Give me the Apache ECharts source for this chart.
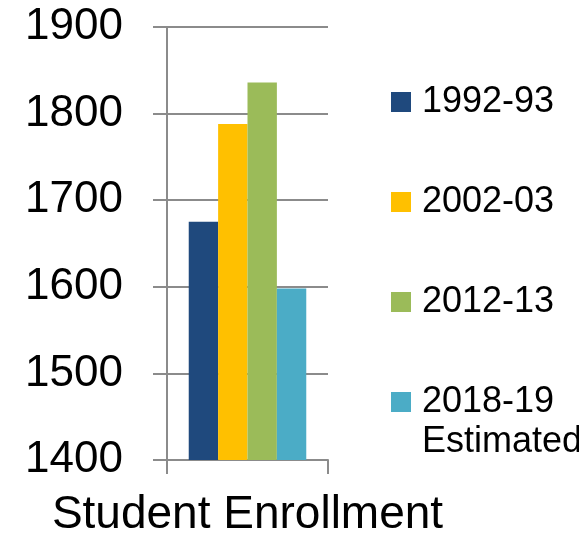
<!DOCTYPE html>
<html>
<head>
<meta charset="utf-8">
<script src="https://cdn.jsdelivr.net/npm/echarts@6/dist/echarts.min.js"></script>
<style>
  html, body { margin: 0; padding: 0; background: #fff; }
  #chart { width: 579px; height: 538px; }
</style>
</head>
<body>
<div id="chart"></div>
<script>
// data
const categories = ['Student Enrollment'];
const seriesNames = ['1992-93', '2002-03', '2012-13', '2018-19'];
const enrollment = [1675, 1788, 1836, 1598];
const yTicks = [1400, 1500, 1600, 1700, 1800, 1900];

const colors = ['#1F497D', '#FFC000', '#9BBB59', '#4BACC6'];
const gray = '#8b8b8b';

const chart = echarts.init(document.getElementById('chart'));

const option = {
  animation: false,
  color: colors,
  textStyle: { fontFamily: 'Liberation Sans' },
  grid: { left: 167, right: 251, top: 27, bottom: 77 },
  legend: {
    orient: 'vertical',
    left: 391,
    top: 82,
    padding: 0,
    itemWidth: 20,
    itemHeight: 20,
    itemGap: 60,
    icon: 'rect',
    textStyle: { fontSize: 36, color: '#000', lineHeight: 40, padding: [0, 0, 0, 6] },
    data: seriesNames
  },
  // second line of the last legend entry
  graphic: [{
    type: 'text',
    left: 422,
    top: 424,
    style: { text: 'Estimated', fontSize: 36, fontFamily: 'Liberation Sans', fill: '#000' }
  }],
  xAxis: {
    type: 'category',
    data: categories,
    axisLine: { lineStyle: { color: gray, width: 2 } },
    axisTick: { show: true, length: 14, lineStyle: { color: gray, width: 2 } },
    axisLabel: { fontSize: 46, color: '#000', margin: 32 }
  },
  yAxis: {
    type: 'value',
    min: yTicks[0],
    max: yTicks[yTicks.length - 1],
    interval: 100,
    axisLine: { show: true, lineStyle: { color: gray, width: 2 } },
    axisTick: { show: true, length: 14, lineStyle: { color: gray, width: 2 } },
    splitLine: { lineStyle: { color: gray, width: 2 } },
    axisLabel: {
      fontSize: 44,
      color: '#000',
      margin: 44,
      formatter: function (v) { return String(v); }
    }
  },
  series: seriesNames.map(function (name, i) {
    return {
      name: name,
      type: 'bar',
      barGap: 0,
      barCategoryGap: '27%',
      data: [enrollment[i]]
    };
  })
};

chart.setOption(option);
</script>
</body>
</html>
